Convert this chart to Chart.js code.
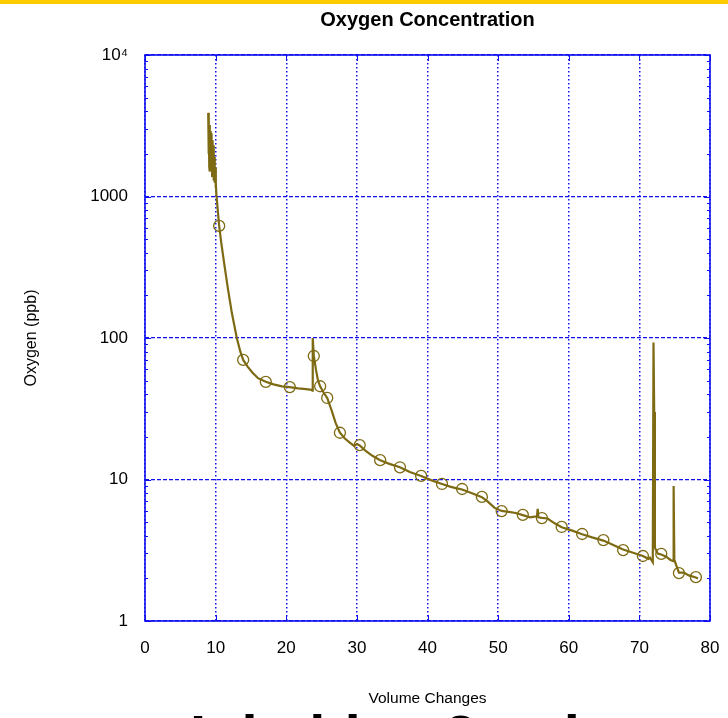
<!DOCTYPE html>
<html><head><meta charset="utf-8">
<script src="https://cdn.jsdelivr.net/npm/chart.js@4.4.0/dist/chart.umd.min.js"></script>
<style>html,body{margin:0;padding:0;background:#fff;overflow:hidden}#wrap{width:728px;height:718px;position:relative}</style>
</head><body><div id="wrap"><canvas id="c" width="728" height="718"></canvas></div>
<script>
// ---- data ----
const volumeChanges = [8.95,9.0,9.05,9.1,9.15,9.2,9.25,9.3,9.35,9.4,9.45,9.5,9.55,9.6,9.65,9.7,9.75,9.8,9.85,9.9,9.95,10.0,10.05,10.1,10.3,10.5,10.8,11.2,11.7,12.3,13.0,13.5,13.9,14.5,15.2,16.0,17.1,18.2,19.4,20.5,21.7,22.8,23.6,23.7,23.75,23.9,24.2,24.5,24.8,25.3,25.8,26.4,27.0,27.6,28.3,29.0,29.6,30.0,30.4,31.2,32.2,33.3,34.6,36.1,37.5,39.1,40.5,42.05,43.2,44.0,44.9,46.3,47.7,48.5,49.5,50.5,51.5,52.5,53.5,54.5,55.5,55.6,55.7,56.2,57.0,58.0,59.0,60.5,61.9,63.3,64.9,66.3,67.7,69.0,70.5,71.3,71.5,71.9,72.0,72.1,72.2,72.6,73.1,73.8,74.4,74.8,74.85,74.95,75.6,76.3,77.0,78.0,78.3];
const oxygenPpb = [3900,2000,3300,1600,3200,1500,2900,1700,2800,1500,2600,1400,2500,1600,2300,1300,2200,1400,1900,1250,1600,1150,1250,1050,800,620,470,340,230,150,100,80,70,63,57,52,49,47,45.5,45,44,43.5,43,42.5,100,75,60,50,45.5,41,37.7,31,25,21.4,19.5,18.2,17.3,17.8,17.4,16,14.7,13.7,12.9,12.2,11.3,10.6,9.9,9.3,8.9,8.7,8.5,8.0,7.5,7.0,6.3,6.0,5.9,5.8,5.6,5.4,5.5,6.2,5.4,5.35,5.3,4.9,4.6,4.35,4.1,3.9,3.7,3.45,3.2,3.05,2.88,2.75,2.8,2.6,93,30,3.3,3.0,2.95,2.85,2.7,2.65,9.0,2.7,2.2,2.2,2.1,2.03,2.0];
const markerVolume = [10.5,13.9,17.1,20.5,23.9,24.8,25.8,27.6,30.4,33.3,36.1,39.1,42.05,44.9,47.7,50.5,53.5,56.2,59.0,61.9,64.9,67.7,70.5,73.1,75.6,78.0];
const markerOxygen = [620,70,49,45,74.6,45.6,37.7,21.4,17.5,13.7,12.2,10.6,9.3,8.57,7.53,5.98,5.62,5.34,4.62,4.12,3.73,3.17,2.88,2.98,2.18,2.04];
const xTickValues = [0,10,20,30,40,50,60,70,80];
const yTickValues = [1,10,100,1000,10000];
const yTickLabels = ['1','10','100','1000','10\u2074'];
const yMinorValues = [2,3,4,5,6,7,8,9,20,30,40,50,60,70,80,90,200,300,400,500,600,700,800,900,2000,3000,4000,5000,6000,7000,8000,9000];

const OLIVE = '#7d6a12';
const BLUE = '#1010f0';
const FONT = '"Liberation Sans", Arial, sans-serif';

const linePoints = volumeChanges.map((x, i) => ({x, y: oxygenPpb[i]}));
const markerPoints = markerVolume.map((x, i) => ({x, y: markerOxygen[i]}));

const decor = {
  id: 'decor',
  beforeDraw(chart) {
    const ctx = chart.ctx;
    ctx.save();
    ctx.fillStyle = '#fff';
    ctx.fillRect(0, 0, chart.width, chart.height);
    ctx.fillStyle = '#ffcc00';
    ctx.fillRect(0, 0, chart.width, 4);
    ctx.restore();
  },
  afterDraw(chart) {
    const ctx = chart.ctx;
    const a = chart.chartArea;
    const xs = chart.scales.x, ys = chart.scales.y;
    ctx.save();
    ctx.strokeStyle = BLUE;
    ctx.lineWidth = 1;
    ctx.beginPath();
    yMinorValues.forEach(v => {
      const py = Math.round(ys.getPixelForValue(v)) + 0.5;
      ctx.moveTo(a.left, py); ctx.lineTo(a.left + 3, py);
      ctx.moveTo(a.right, py); ctx.lineTo(a.right - 3, py);
    });
    yTickValues.forEach(v => {
      const py = Math.round(ys.getPixelForValue(v)) + 0.5;
      ctx.moveTo(a.left, py); ctx.lineTo(a.left + 6, py);
      ctx.moveTo(a.right, py); ctx.lineTo(a.right - 6, py);
    });
    xTickValues.forEach(v => {
      const px = Math.round(xs.getPixelForValue(v)) + 0.5;
      ctx.moveTo(px, a.top); ctx.lineTo(px, a.top + 6);
      ctx.moveTo(px, a.bottom); ctx.lineTo(px, a.bottom - 6);
    });
    ctx.stroke();
    ctx.lineWidth = 1.6;
    ctx.strokeRect(a.left, a.top, a.right - a.left, a.bottom - a.top);
    // partly visible caption below the chart (only the tops of its tall letters show)
    ctx.fillStyle = '#000';
    ctx.font = 'bold 58px ' + FONT;
    ctx.textBaseline = 'alphabetic';
    ctx.fillText('It held at 2 ppb', 190, 756);
    ctx.restore();
  }
};

new Chart(document.getElementById('c'), {
  type: 'scatter',
  data: {
    datasets: [
      {data: linePoints, showLine: true, borderColor: OLIVE, borderWidth: 2.2, pointRadius: 0, tension: 0, order: 2},
      {data: markerPoints, showLine: false, borderColor: OLIVE, backgroundColor: 'rgba(0,0,0,0)', borderWidth: 1.3, pointRadius: 5.5, pointHoverRadius: 5.5, order: 1}
    ]
  },
  options: {
    responsive: false,
    animation: false,
    devicePixelRatio: 1,
    layout: {padding: {left: 0, right: 18, top: 0, bottom: 0}},
    plugins: {
      legend: {display: false},
      tooltip: {enabled: false},
      title: {display: true, fullSize: false, text: 'Oxygen Concentration', color: '#000',
        font: {family: FONT, size: 20, weight: 'bold'}, padding: {top: 8, bottom: 23}}
    },
    scales: {
      x: {
        type: 'linear', min: 0, max: 80,
        afterBuildTicks(s) { s.ticks = xTickValues.map(v => ({value: v})); },
        afterFit(s) { s.height = 97; s.paddingLeft = 0; s.paddingRight = 0; },
        ticks: {color: '#000', font: {family: FONT, size: 17}, padding: 17, maxRotation: 0, autoSkip: false,
          callback: v => String(v)},
        grid: {color: BLUE, lineWidth: 1.5, drawTicks: false},
        border: {display: false, dash: [1.5, 2.5]},
        title: {display: true, text: 'Volume Changes', color: '#000', font: {family: FONT, size: 15.5}, padding: {top: 0, bottom: 10}}
      },
      y: {
        type: 'logarithmic', min: 1, max: 10000,
        afterBuildTicks(s) { s.ticks = yTickValues.map(v => ({value: v})); },
        afterFit(s) { s.width = 145; s.paddingTop = 0; s.paddingBottom = 0; },
        ticks: {color: '#000', font: {family: FONT, size: 17}, padding: 17, autoSkip: false,
          callback: (v) => { const i = yTickValues.indexOf(v); return i >= 0 ? yTickLabels[i] : ''; }},
        grid: {color: BLUE, lineWidth: 1.3, drawTicks: false},
        border: {display: false, dash: [4, 2]},
        title: {display: true, text: 'Oxygen (ppb)', color: '#000', font: {family: FONT, size: 16}, padding: {top: 22, bottom: 0}}
      }
    }
  },
  plugins: [decor]
});
</script>
</body></html>
